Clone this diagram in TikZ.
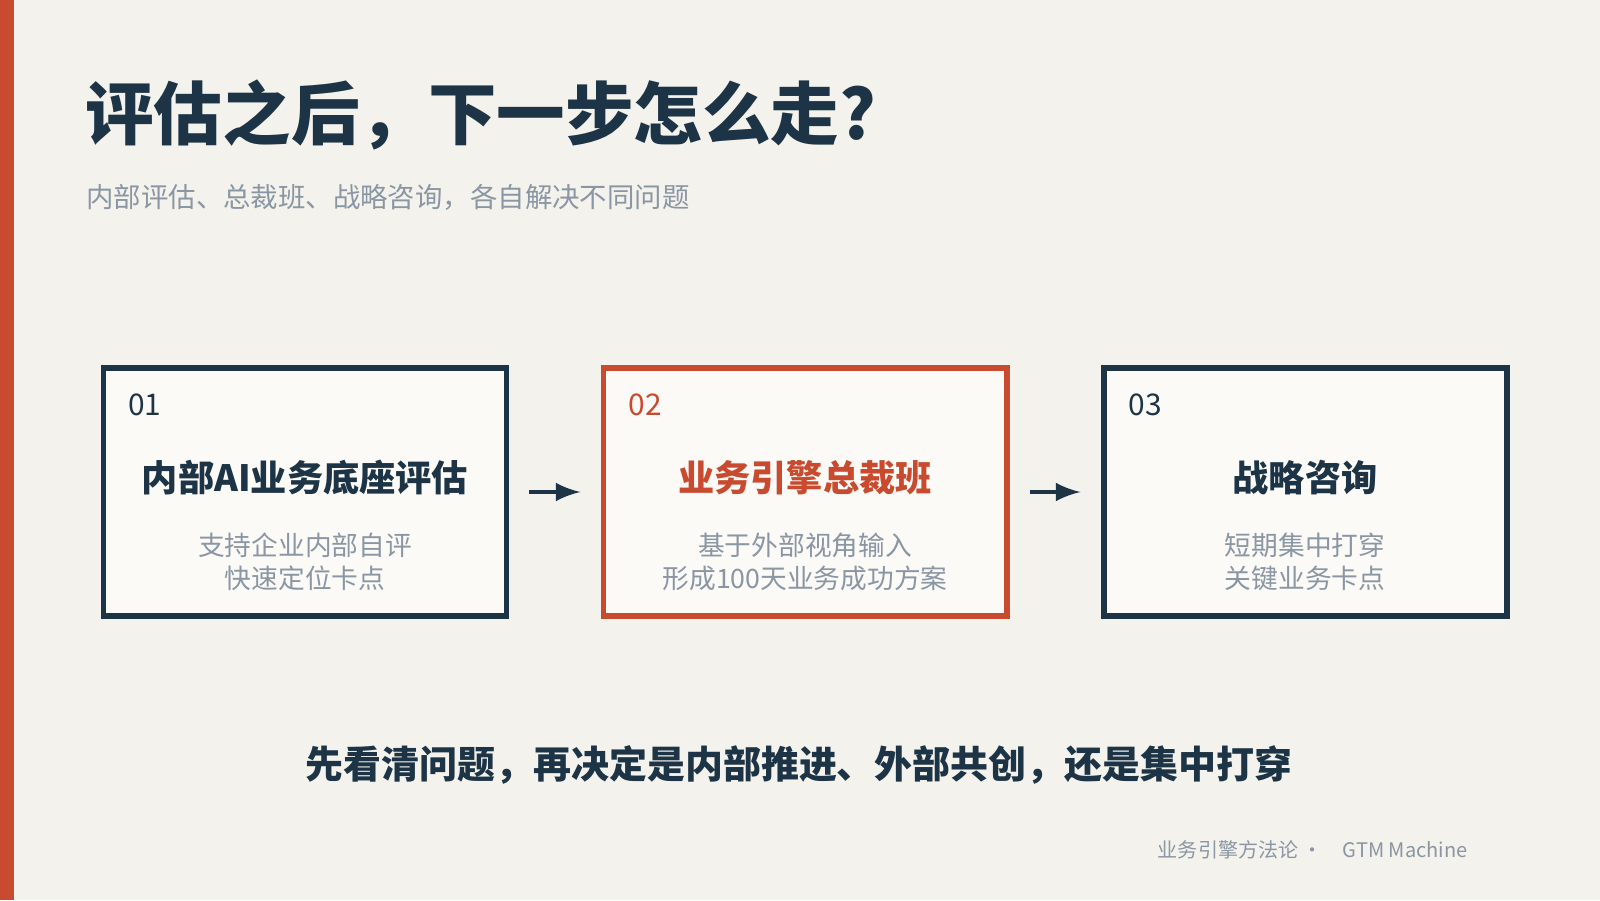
\documentclass[tikz,border=0pt]{standalone}
\usepackage{fontspec}
\setmainfont{Noto Sans CJK SC}
\usetikzlibrary{positioning}
\definecolor{bgc}{HTML}{F4F2EC}
\definecolor{boxc}{HTML}{FBFAF7}
\definecolor{navy}{HTML}{1C3445}
\definecolor{rust}{HTML}{C84B2F}
\definecolor{greyt}{HTML}{8A96A3}
\begin{document}
\begin{tikzpicture}[
    card/.style={draw=navy,line width=1.7pt,fill=boxc,minimum width=4.03cm,minimum height=2.48cm},
    num/.style={font=\fontsize{8.5pt}{10pt}\selectfont,text=navy,anchor=west},
    head/.style={font=\fontsize{10.3pt}{12pt}\selectfont\bfseries,text=navy},
    desc/.style={font=\fontsize{7.6pt}{9.4pt}\selectfont,text=greyt,align=center},
    flow/.style={-latex,line width=1.4pt,draw=navy}]

  \fill[bgc] (0,0) rectangle (16,9);
  \useasboundingbox (0,0) rectangle (16,9);
  \fill[rust] (0,0) rectangle (0.14,9);

  \node[anchor=west,font=\fontsize{19.5pt}{22pt}\selectfont\bfseries,text=navy] (title) at (0.73,7.85) {评估之后，下一步怎么走?};
  \node[anchor=west,font=\fontsize{7.8pt}{9pt}\selectfont,text=greyt] (sub) at (0.74,7.03) {内部评估、总裁班、战略咨询，各自解决不同问题};

  \node[card] (c1) at (3.05,4.08) {};
  \node[card,draw=rust] (c2) at (8.05,4.08) {};
  \node[card] (c3) at (13.05,4.08) {};

  \node[num] at (1.16,4.95) {01};
  \node[num,text=rust] at (6.16,4.95) {02};
  \node[num] at (11.16,4.95) {03};

  \node[head] at (3.05,4.22) {内部AI业务底座评估};
  \node[head,text=rust] at (8.05,4.22) {业务引擎总裁班};
  \node[head] at (13.05,4.22) {战略咨询};

  \node[desc] at (3.05,3.38) {支持企业内部自评\\快速定位卡点};
  \node[desc] at (8.05,3.38) {基于外部视角输入\\形成100天业务成功方案};
  \node[desc] at (13.05,3.38) {短期集中打穿\\关键业务卡点};

  \draw[flow] ([xshift=0.2cm]c1.east) -- ([xshift=-0.2cm]c2.west);
  \draw[flow] ([xshift=0.2cm]c2.east) -- ([xshift=-0.2cm]c3.west);

  \node[font=\fontsize{10.8pt}{12pt}\selectfont\bfseries,text=navy] (note) at (7.99,1.35) {先看清问题，再决定是内部推进、外部共创，还是集中打穿};
  \node[anchor=east,font=\fontsize{5.7pt}{7pt}\selectfont,text=greyt] (foot) at (14.8,0.5) {业务引擎方法论 ·\quad GTM Machine};
\end{tikzpicture}
\end{document}
